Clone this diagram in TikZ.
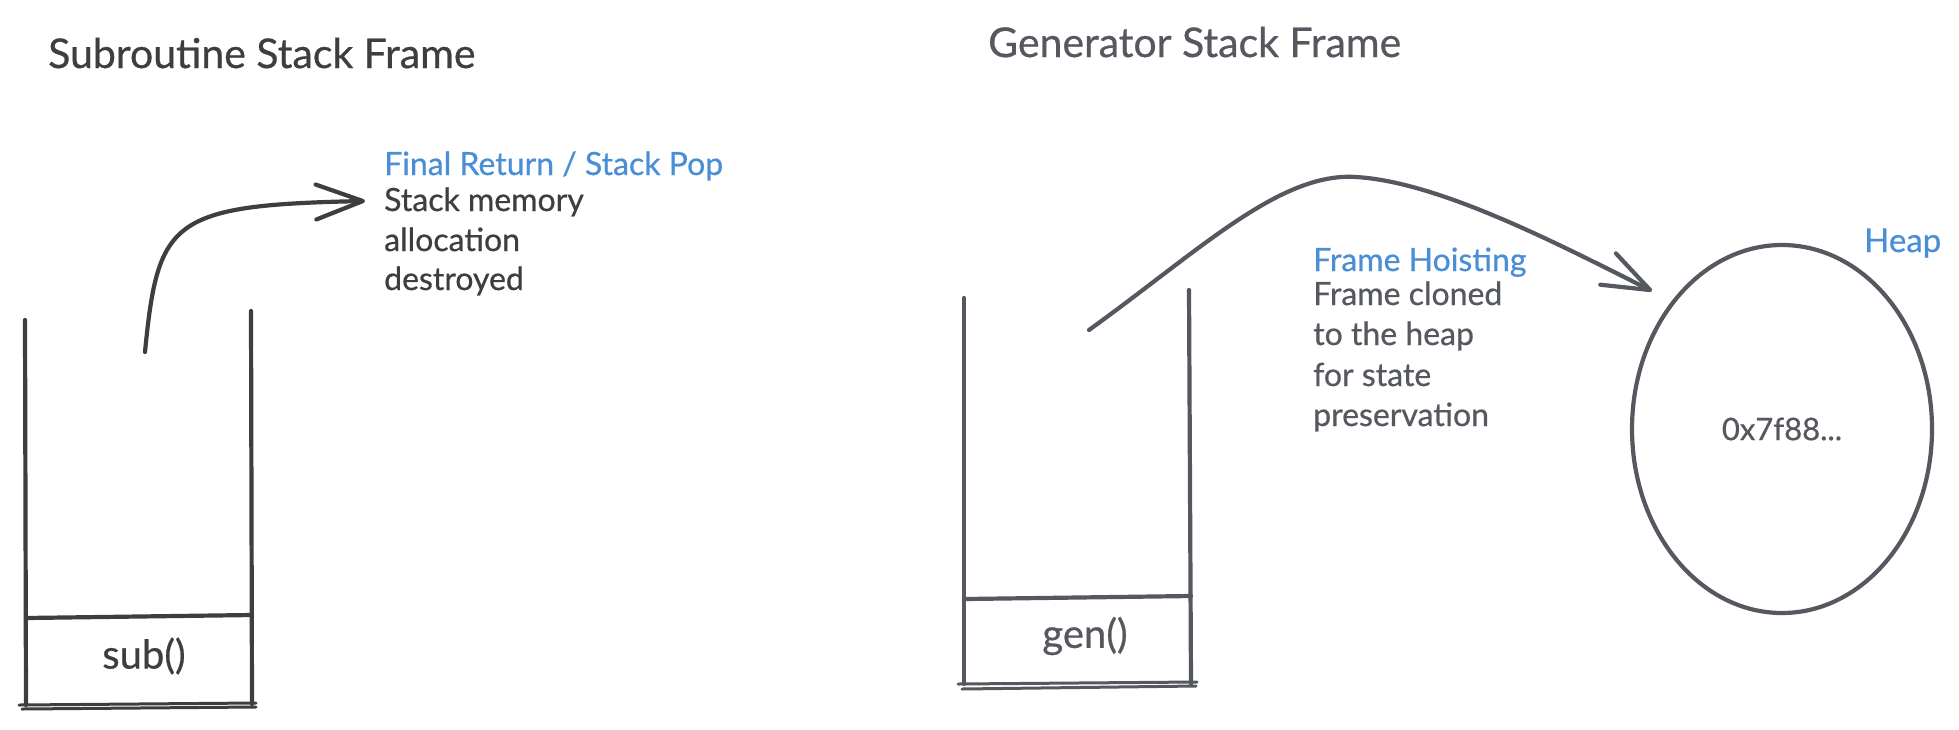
\documentclass[tikz,border=0pt]{standalone}
\usepackage{fontspec}
\setmainfont{Lato}[FakeBold=0.6]
\usetikzlibrary{arrows.meta,shapes.geometric}
\definecolor{inkL}{HTML}{3E3E3E}
\definecolor{inkR}{HTML}{55595F}
\definecolor{accent}{HTML}{4A8FD6}
\tikzset{
  stroke/.style={line width=4.2pt, line cap=round, line join=round},
  thinstroke/.style={line width=3pt, line cap=round},
  txt/.style={inner sep=0pt, anchor=base west},
  titletxt/.style={txt, font=\fontsize{41}{50}\selectfont},
  bodytxt/.style={txt, font=\fontsize{32}{40}\selectfont},
  labeltxt/.style={inner sep=0pt, font=\fontsize{40}{48}\selectfont},
  barb/.style={-{Straight Barb[round,length=47pt,width=35pt]}},
}
\begin{document}
\begin{tikzpicture}[x=1pt,y=-1pt]
\useasboundingbox (0,0) rectangle (1959,729);
\fill[white] (0,0) rectangle (1959,729);

% ---------- Subroutine side ----------
\node[titletxt, text=inkL] (t1) at (48,68) {Subroutine Stack Frame};

\draw[stroke, inkL] (25,320) -- (26,705);
\draw[stroke, inkL] (251,311) -- (252,704);
\draw[stroke, inkL] (26,618) -- (252,615);
\draw[thinstroke, inkL] (19,705) -- (256,703);
\draw[thinstroke, inkL] (22,709) -- (256,707);
\node[labeltxt, text=inkL] (sub) at (144,656) {sub()};

\coordinate (subtop) at (145,352);
\coordinate (poptip) at (365,201);
\draw[stroke, inkL, barb] (subtop) .. controls (158,220) and (170,205) .. (poptip);

\node[bodytxt, text=accent] (popt) at (384,175) {Final Return / Stack Pop};
\node[bodytxt, text=inkL] (pop1) at (384,211) {Stack memory};
\node[bodytxt, text=inkL] (pop2) at (384,251) {allocation};
\node[bodytxt, text=inkL] (pop3) at (384,290) {destroyed};

% ---------- Generator side ----------
\node[titletxt, text=inkR] (t2) at (988,57) {Generator Stack Frame};

\draw[stroke, inkR] (964,298) -- (964,684);
\draw[stroke, inkR] (1189,290) -- (1191,684);
\draw[stroke, inkR] (966,599) -- (1191,596);
\draw[thinstroke, inkR] (958,684) -- (1197,682);
\draw[thinstroke, inkR] (962,689) -- (1196,686);
\node[labeltxt, text=inkR] (gen) at (1085,636) {gen()};

\node[draw=inkR, line width=4.2pt, ellipse, minimum width=300pt, minimum height=368pt,
      inner sep=0pt, text=inkR, font=\fontsize{31}{36}\selectfont] (heap) at (1782,429) {0x7f88...};

\coordinate (gentop) at (1089,330);
\coordinate (heaptip) at (1652,291);
\draw[stroke, inkR, barb] (gentop) .. controls (1200,250) and (1280,172) .. (1356,177)
  .. controls (1440,182) and (1560,245) .. (heaptip);

\node[bodytxt, text=accent] (hoist) at (1313,271) {Frame Hoisting};
\node[bodytxt, text=inkR] (h1) at (1313,305) {Frame cloned};
\node[bodytxt, text=inkR] (h2) at (1313,345) {to the heap};
\node[bodytxt, text=inkR] (h3) at (1313,386) {for state};
\node[bodytxt, text=inkR] (h4) at (1313,426) {preservation};

\node[bodytxt, text=accent, font=\fontsize{33}{40}\selectfont] (heapl) at (1864,252) {Heap};
\end{tikzpicture}
\end{document}
